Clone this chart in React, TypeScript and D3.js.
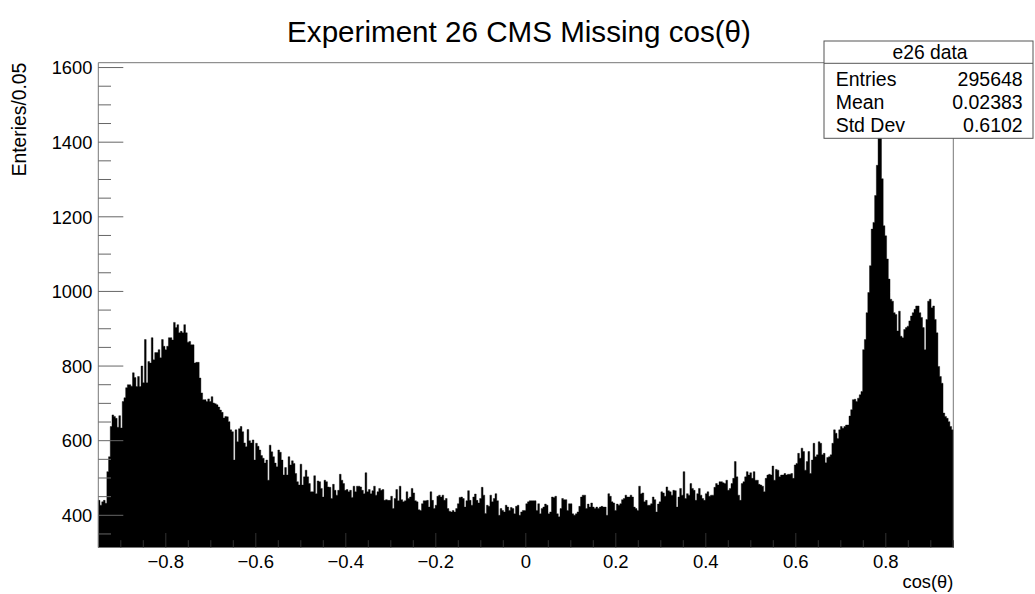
import React from 'react';
import * as d3 from 'd3';

// Bin contents (500 bins from -0.95 to 0.95), split in sections
const binsLeftPeak = [
  440, 427, 436, 440, 432, 517, 557, 638, 669, 665,
  660, 636, 667, 634, 705, 715, 742, 750, 750, 746,
  782, 769, 745, 772, 745, 800, 755, 871, 755, 812,
  808, 876, 817, 836, 836, 844, 822, 871, 853, 844,
  853, 876, 876, 870, 917, 903, 911, 889, 893, 889,
  911, 889, 864, 866, 857, 857, 808, 810, 810, 768,
  728, 710, 710, 705, 712, 705, 718, 701, 699, 696,
  690, 682, 676, 661, 665, 664, 651, 629, 624, 548,
  629, 597, 632, 638, 624, 594, 584, 630, 600, 594,
  602, 548, 593, 585, 575, 560, 553, 540, 548, 494,
  588, 570, 557, 540, 530, 575,
];
const binsLeftTail = [
  569, 548, 508, 528, 508, 557, 535, 546, 539, 512,
  490, 481, 537, 481, 503, 521, 503, 485, 463,
  463, 506, 458, 492, 490, 472, 449, 494, 490, 476,
  475, 445, 483, 467, 454, 467, 510, 494, 485, 467,
  469, 463, 467, 448, 478, 463, 478, 478, 476, 467,
  458, 514, 463, 469, 458, 466, 478, 454, 463,
  472, 467, 469, 440, 442, 440, 440, 451, 418, 445,
  469, 439, 478, 442, 436, 439, 463, 445, 449, 472,
  460, 439, 436, 415, 413, 431, 439, 439, 440,
  422, 463, 440, 418, 427, 451, 454, 449, 454, 440,
  445, 418, 411, 409, 413, 409, 418, 431, 448, 449,
  445, 422, 439, 466, 440, 427, 449, 457, 440, 433,
  445, 475, 454, 405, 427, 424, 454, 436, 445,
  458, 439, 400, 418, 413, 409, 427, 422, 413, 421,
  418, 404, 424, 427, 400,
];
const binsCentre = [
  409, 413, 413, 431, 436, 439, 439, 439, 439,
  413, 431, 404, 418, 422, 430, 427, 404, 409, 449,
  448, 451, 404, 396, 418, 445, 442, 442, 413, 431,
  431, 404, 400, 404, 409, 424, 449, 454, 454,
  418, 430, 422, 433, 422, 418, 422, 418, 422, 424,
  422, 422, 400, 458, 451, 436, 433, 413, 430, 427,
  431, 442, 445, 454, 449, 449, 454, 449, 422, 418,
  413, 478, 458, 460, 436, 440, 427, 427, 431,
  449, 442, 409, 430, 436, 463, 460, 451, 476, 466,
  463, 454, 467, 466, 422, 449, 472, 454, 517, 445,
  458, 454, 485, 472, 467, 440, 458, 472, 454, 445,
  440, 458, 463, 451, 454, 454, 475, 485, 481,
  490, 490, 487, 485, 494, 467, 472, 485, 499, 544,
  503, 454, 440, 485, 490, 503, 517, 508, 514, 499,
  517, 494, 494, 483, 481, 478, 463, 499, 508, 510,
];
const binsRightRise = [
  508, 532, 494, 523, 521, 503, 508, 508, 512, 508,
  510, 510, 512, 499, 535, 539, 566, 553, 580, 571,
  521, 544, 571, 512, 548, 593, 557,
  562, 597, 593, 562, 566, 541, 555, 557, 562, 593,
  629, 620, 606, 629, 638, 633, 638, 642, 642, 666,
  683, 710, 711, 705, 714, 723, 732,
];
const binsRightPeak = [
  844, 871, 943, 997, 1069, 1167, 1185, 1257, 1338, 1450,
  1520, 1302, 1176, 1149, 1087, 1033, 979, 974, 943, 938,
  894, 947, 880, 876, 898, 903, 907, 921, 934, 943,
  952, 961, 961, 943, 930, 903, 844, 925, 974, 979,
  956, 961, 925, 889, 799, 772, 754, 674, 665, 660,
  651, 638, 629,
];

const xDomain = [-0.95, 0.95];
const yDomain = [313.7, 1613];
const xTickValues = [-0.8, -0.6, -0.4, -0.2, 0, 0.2, 0.4, 0.6, 0.8];
const yTickValues = [400, 600, 800, 1000, 1200, 1400, 1600];
const statsNames = ['Entries', 'Mean', 'Std Dev'];
const statsValues = ['295648', '0.02383', '0.6102'];
const titleText = 'Experiment 26 CMS Missing cos(\u03B8)';
const xTitle = 'cos(\u03B8)';
const yTitle = 'Enteries/0.05';
const statsTitle = 'e26 data';

const FONT = "'Liberation Sans', Arial, Helvetica, sans-serif";

function fmtX(v: number) {
  if (Math.abs(v) < 1e-9) return '0';
  const s = Math.abs(v).toFixed(1);
  return v < 0 ? '\u2212' + s : s;
}

export default function App() {
  const values = [
    ...binsLeftPeak,
    ...binsLeftTail,
    ...binsCentre,
    ...binsRightRise,
    ...binsRightPeak,
  ];
  const W = 1035;
  const H = 594;
  const left = 98.3;
  const right = 953.3;
  const top = 62.7;
  const bottom = 547.5;
  const x = d3.scaleLinear().domain(xDomain).range([left, right]);
  const y = d3.scaleLinear().domain(yDomain).range([bottom, top]);
  const bw = (xDomain[1] - xDomain[0]) / values.length;

  const yMinor = d3.range(350, yDomain[1], 50).filter((v) => v % 200 !== 0);
  const xMinor = d3.range(-0.9, 0.951, 0.05).filter(
    (v) => Math.abs(Math.round(v * 5) - v * 5) > 1e-6
  );

  // step outline of the histogram
  const pts: [number, number][] = [[x(xDomain[0]), bottom]];
  values.forEach((v, i) => {
    const yy = y(Math.min(v, yDomain[1]));
    pts.push([x(xDomain[0] + i * bw), yy]);
    pts.push([x(xDomain[0] + (i + 1) * bw), yy]);
  });
  pts.push([x(xDomain[1]), bottom]);
  const histPath = d3.line()(pts) + 'Z';

  const box = { x0: 824, x1: 1033, y0: 41, y1: 138.3, sep: 63.3 };

  return (
    <svg
      width={W}
      height={H}
      style={{ position: 'absolute', left: 0, top: 0, background: '#fff' }}
      fontFamily={FONT}
    >
      <rect x={0} y={0} width={W} height={H} fill="#fff" />
      <text x={519} y={42} fontSize={29.6} textAnchor="middle" fill="#000">
        {titleText}
      </text>

      {/* histogram */}
      <path d={histPath} fill="#000" stroke="#000" strokeWidth={0.4} strokeLinejoin="miter" />

      {/* frame */}
      <line x1={left} y1={top} x2={right} y2={top} stroke="#777" strokeWidth={1} />
      <line x1={right} y1={top} x2={right} y2={bottom} stroke="#777" strokeWidth={1} />
      <line x1={left} y1={top} x2={left} y2={bottom} stroke="#777" strokeWidth={1} />
      <line x1={left} y1={bottom} x2={right} y2={bottom} stroke="#777" strokeWidth={1} />

      {/* y axis ticks */}
      {yTickValues.map((v) => (
        <g key={'yt' + v}>
          <line x1={left} x2={left + 25} y1={y(v)} y2={y(v)} stroke="#666" strokeWidth={1} />
          <text x={92.3} y={y(v) + 6.7} fontSize={18.3} textAnchor="end" fill="#000">
            {v}
          </text>
        </g>
      ))}
      {yMinor.map((v) => (
        <line key={'ym' + v} x1={left} x2={left + 12.7} y1={y(v)} y2={y(v)} stroke="#666" strokeWidth={1} />
      ))}

      {/* x axis ticks */}
      {xTickValues.map((v) => (
        <g key={'xt' + v}>
          <line x1={x(v)} x2={x(v)} y1={bottom} y2={bottom - 14.5} stroke="#333" strokeWidth={1} />
          <text x={x(v)} y={568.3} fontSize={18.5} textAnchor="middle" fill="#000">
            {fmtX(v)}
          </text>
        </g>
      ))}
      {xMinor.map((v, i) => (
        <line key={'xm' + i} x1={x(v)} x2={x(v)} y1={bottom} y2={bottom - 7.3} stroke="#333" strokeWidth={1} />
      ))}

      <text x={right} y={588} fontSize={18.3} textAnchor="end" fill="#000">
        {xTitle}
      </text>
      <text
        transform={`translate(25.5,${top}) rotate(-90)`}
        fontSize={19.3}
        textAnchor="end"
        fill="#000"
      >
        {yTitle}
      </text>

      {/* stats box */}
      <rect
        x={box.x0}
        y={box.y0}
        width={box.x1 - box.x0}
        height={box.y1 - box.y0}
        fill="#fff"
        stroke="#555"
        strokeWidth={1}
      />
      <line x1={box.x0} x2={box.x1} y1={box.sep} y2={box.sep} stroke="#555" strokeWidth={1} />
      <text x={930} y={59} fontSize={19.3} textAnchor="middle" fill="#000">
        {statsTitle}
      </text>
      {statsNames.map((n, i) => (
        <g key={n}>
          <text x={835.7} y={86 + i * 22.9} fontSize={19.5} fill="#000">
            {n}
          </text>
          <text x={1022.7} y={86 + i * 22.9} fontSize={19.5} textAnchor="end" fill="#000">
            {statsValues[i]}
          </text>
        </g>
      ))}
    </svg>
  );
}
